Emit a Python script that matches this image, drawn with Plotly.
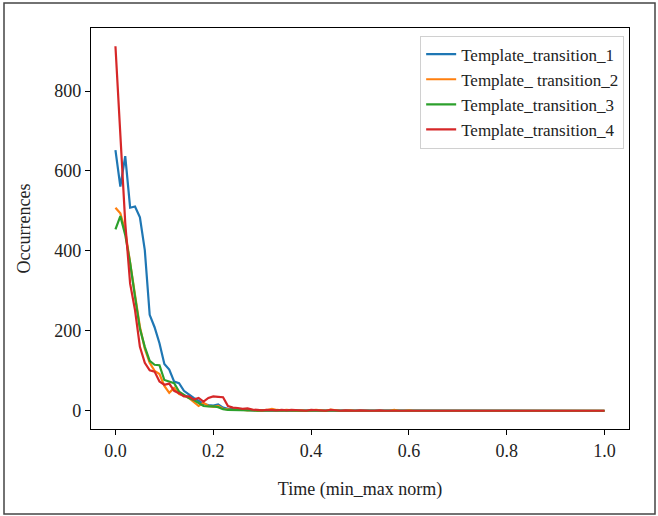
import plotly.graph_objects as go

time_norm = [round(i * 0.01, 2) for i in range(101)]

template_1 = [
    652, 561, 637, 508, 511, 484, 402, 240, 209, 169,
    117, 103, 73, 69, 50, 40, 32, 25, 17, 14,
    13, 16, 8, 5, 4, 3, 2, 2, 1, 1,
    1, 1, 0, 1, 0, 0, 1, 0, 0, 1,
    0, 0, 1, 0, 0, 0, 1, 0, 0, 0,
    0, 0, 0, 1, 0, 0, 0, 0, 1, 0,
    0, 0, 0, 0, 1, 0, 0, 0, 0, 0,
    0, 1, 0, 0, 0, 0, 0, 0, 0, 0,
    0, 0, 1, 0, 0, 0, 0, 0, 0, 0,
    0, 0, 0, 0, 0, 0, 0, 0, 0, 0,
    0,
]
template_2 = [
    508, 494, 450, 375, 290, 210, 155, 120, 100, 92,
    62, 45, 57, 42, 38, 32, 22, 12, 20, 12,
    10, 12, 5, 3, 2, 4, 2, 1, 2, 0,
    1, 2, 5, 2, 1, 2, 1, 0, 1, 0,
    1, 2, 1, 0, 3, 1, 0, 0, 1, 0,
    0, 1, 0, 0, 1, 0, 0, 2, 0, 0,
    1, 0, 0, 0, 0, 1, 0, 0, 0, 1,
    0, 0, 0, 1, 0, 0, 0, 0, 0, 0,
    1, 0, 0, 0, 0, 0, 0, 0, 0, 0,
    0, 0, 0, 0, 0, 1, 0, 0, 0, 0,
    0,
]
template_3 = [
    454, 487, 440, 370, 285, 205, 160, 125, 115, 114,
    77, 73, 69, 48, 40, 32, 27, 19, 12, 11,
    11, 9, 4, 2, 2, 1, 2, 1, 1, 0,
    1, 0, 1, 1, 0, 0, 1, 0, 0, 0,
    1, 0, 0, 1, 0, 0, 0, 0, 1, 0,
    0, 0, 1, 0, 0, 0, 0, 0, 0, 1,
    0, 0, 0, 0, 0, 0, 1, 0, 0, 0,
    0, 0, 0, 0, 0, 0, 0, 0, 1, 0,
    0, 0, 0, 0, 0, 0, 0, 0, 0, 0,
    0, 0, 0, 0, 0, 0, 0, 0, 0, 0,
    0,
]
template_4 = [
    912, 700, 470, 318, 252, 160, 120, 101, 98, 73,
    65, 68, 50, 44, 36, 36, 28, 32, 23, 32,
    36, 35, 34, 12, 8, 7, 5, 6, 3, 2,
    1, 2, 1, 1, 2, 1, 2, 1, 1, 0,
    2, 1, 1, 0, 2, 1, 0, 1, 0, 0,
    1, 0, 0, 0, 1, 0, 0, 0, 0, 0,
    0, 0, 0, 0, 0, 1, 0, 0, 0, 1,
    0, 0, 0, 0, 0, 0, 0, 0, 0, 0,
    0, 1, 0, 0, 0, 0, 0, 0, 0, 0,
    0, 0, 0, 0, 0, 0, 0, 0, 0, 0,
    0,
]

series_names = ["Template_transition_1", "Template_ transition_2",
                "Template_transition_3", "Template_transition_4"]
series_values = [template_1, template_2, template_3, template_4]
colors = ["#1f77b4", "#ff7f0e", "#2ca02c", "#d62728"]

y_ticks = [0, 200, 400, 600, 800]
x_ticks = [0.0, 0.2, 0.4, 0.6, 0.8, 1.0]

FONT = "Liberation Serif, Times New Roman, serif"
FS = 18

fig = go.Figure()
for name, vals, col in zip(series_names, series_values, colors):
    fig.add_trace(go.Scatter(x=time_norm, y=vals, mode="lines", name=name,
                             line=dict(color=col, width=2.2)))

L, R, T, B = 91, 29, 28, 87
W, H = 658, 516
pw, ph = W - L - R, H - T - B

fig.update_layout(
    width=W, height=H,
    margin=dict(l=L, r=R, t=T, b=B),
    paper_bgcolor="white", plot_bgcolor="white",
    font=dict(family=FONT, size=FS, color="#222"),
    showlegend=True,
    legend=dict(x=0.991, y=0.981, xanchor="right", yanchor="top",
                bgcolor="rgba(255,255,255,0.8)", bordercolor="#d0d0d0",
                borderwidth=1, font=dict(family=FONT, size=17, color="#222"),
                tracegroupgap=0, itemwidth=30),
    xaxis=dict(range=[-0.05, 1.05], tickvals=x_ticks,
               ticktext=[f"{v:.1f}" for v in x_ticks],
               showgrid=False, zeroline=False, showline=True, mirror=True,
               linecolor="black", linewidth=1.2, ticks="outside", ticklen=5,
               tickcolor="black",
               title=dict(text="Time (min_max norm)", standoff=22,
                          font=dict(family=FONT, size=FS))),
    yaxis=dict(range=[-45.6, 957.6], tickvals=y_ticks,
               showgrid=False, zeroline=False, showline=True, mirror=True,
               linecolor="black", linewidth=1.2, ticks="outside", ticklen=5,
               tickcolor="black",
               title=dict(text="Occurrences", standoff=18,
                          font=dict(family=FONT, size=FS))),
    shapes=[dict(type="rect", xref="paper", yref="paper",
                 x0=(4 - L) / pw, x1=(655 - L) / pw,
                 y0=(H - B - 514) / ph, y1=(H - B - 3) / ph,
                 line=dict(color="#444", width=1.5), fillcolor="rgba(0,0,0,0)",
                 layer="below")],
)

fig.write_html("out.html",
               config={"displayModeBar": False},
               post_script="document.body.style.margin='0';document.body.style.overflow='hidden';")
